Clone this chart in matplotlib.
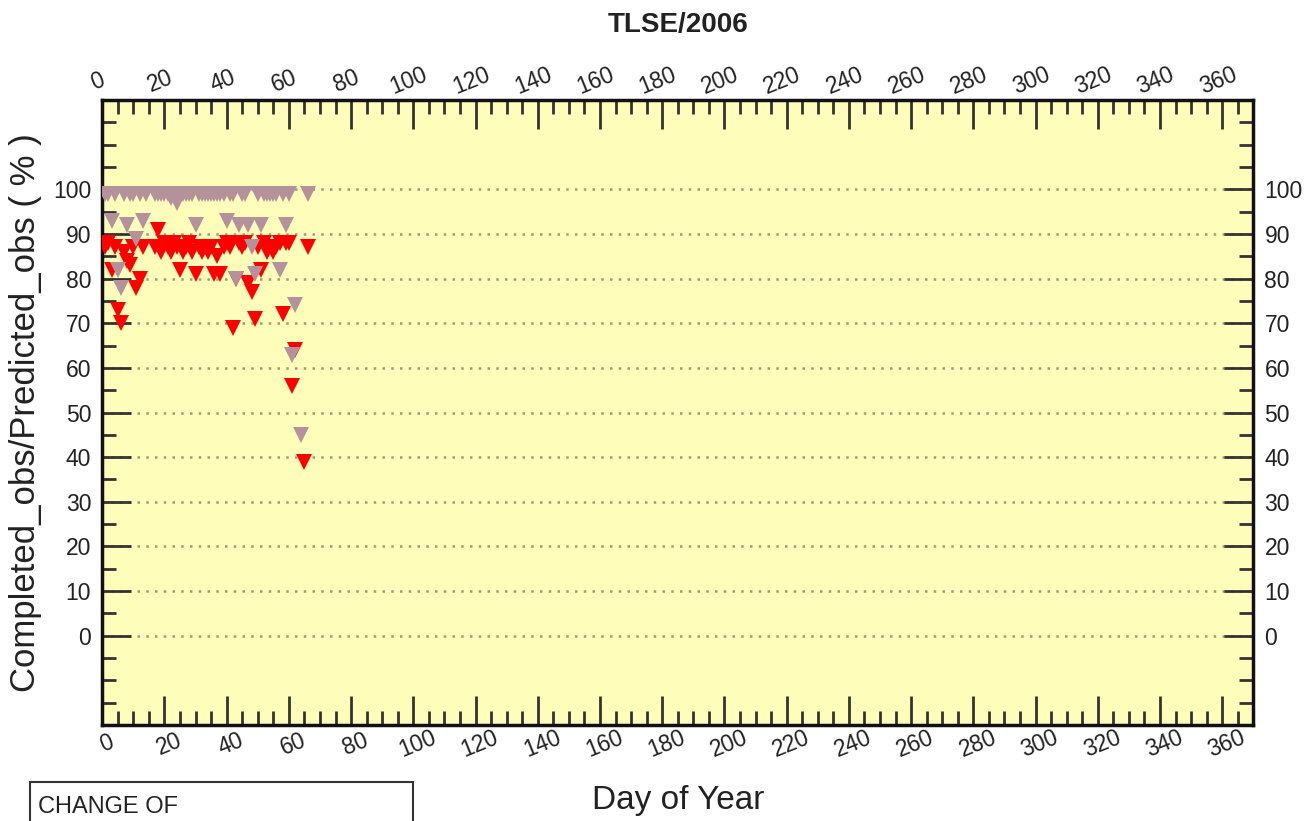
import matplotlib.pyplot as plt
from matplotlib.ticker import MultipleLocator, FixedLocator
from matplotlib.patches import Rectangle
import numpy as np

plt.rcParams['font.family'] = ['Liberation Sans', 'DejaVu Sans']

# observation ratios per day of year
red_days = [1, 2, 3, 4, 5, 6, 7, 8, 9, 10, 11, 12, 13,
            17, 18, 19, 20, 21, 22, 23, 24, 25, 26, 27, 28, 29, 30,
            31, 32, 33, 34, 35, 36, 37, 38, 39, 40, 41, 42, 43, 44, 45,
            46, 47, 48, 49, 50, 51, 52, 53, 54, 55, 56, 57, 58, 59, 60,
            61, 62, 65, 66]
red_vals = [87, 88, 82, 87, 73, 70, 86, 84, 83, 87, 78, 80, 87,
            87, 91, 86, 88, 87, 86, 88, 87, 82, 86, 87, 88, 86, 81,
            87, 86, 87, 86, 87, 81, 85, 81, 87, 88, 87, 69, 80, 88, 87,
            88, 79, 77, 71, 87, 82, 88, 86, 87, 86, 87, 88, 72, 88, 88,
            56, 64, 39, 87]

grey_days = [1, 2, 3, 4, 5, 6, 7, 8, 9, 10, 11, 12, 13, 14,
             17, 18, 19, 20, 21, 22, 23, 24, 25, 26, 27, 28, 29, 30,
             31, 32, 33, 34, 35, 36, 37, 38, 39, 40, 41, 42, 43, 44, 45,
             46, 47, 48, 49, 50, 51, 52, 53, 54, 55, 56, 57, 58, 59, 60,
             61, 62, 64, 66]
grey_vals = [99, 99, 93, 99, 82, 78, 99, 92, 99, 99, 89, 99, 93, 99,
             99, 99, 99, 99, 99, 98, 99, 97, 99, 99, 99, 99, 99, 92,
             99, 99, 99, 99, 99, 99, 99, 99, 99, 93, 99, 99, 80, 92, 99,
             99, 92, 87, 81, 99, 92, 99, 99, 99, 99, 99, 82, 99, 92, 99,
             63, 74, 45, 99]

x_ticks = list(range(0, 361, 20))
y_ticks = list(range(0, 101, 10))

fig = plt.figure(figsize=(13.11, 8.21), dpi=100)
ax = fig.add_axes([0.078, 0.117, 0.878, 0.761])
ax.set_facecolor('#FEFEBA')

ax.plot(red_days, red_vals, linestyle='none', marker='v', markersize=12,
        color='#FF0000', markeredgewidth=0, zorder=3)
ax.plot(grey_days, grey_vals, linestyle='none', marker='v', markersize=12,
        color='#B4919B', markeredgewidth=0, zorder=4)

ax.set_xlim(0, 370)
ax.set_ylim(-20, 120)

for y in y_ticks:
    ax.axhline(y, color='#9C9C7C', linestyle=(0, (1, 2.5)), linewidth=1.8, zorder=1)

ax.xaxis.set_major_locator(FixedLocator(x_ticks))
ax.xaxis.set_minor_locator(MultipleLocator(5))
ax.yaxis.set_major_locator(FixedLocator(y_ticks))
ax.yaxis.set_minor_locator(FixedLocator(np.arange(-15, 120, 5)))

ax.tick_params(which='both', direction='in', top=True, right=True,
               labeltop=True, labelright=True, width=2, color='#333333')
ax.tick_params(which='major', length=21, labelsize=16.5, pad=8, labelcolor='#222222')
ax.tick_params(which='minor', length=10)
ax.tick_params(axis='x', labelrotation=22, pad=6)
for lab in ax.get_xticklabels(which='both'):
    lab.set_rotation_mode('anchor')

for s in ax.spines.values():
    s.set_linewidth(2.5)
    s.set_color('#111111')

fig.text(0.517, 0.970, 'TLSE/2006', fontsize=20, fontweight='bold',
         ha='center', va='center', color='#222222')
ax.set_ylabel('Completed_obs/Predicted_obs ( % )', fontsize=25, labelpad=8,
              color='#222222')
fig.text(0.517, 0.025, 'Day of Year', fontsize=24, ha='center', va='center',
         color='#222222')

# legend box at the bottom, running past the page edge
fig.patches.append(Rectangle((0.023, -0.05), 0.292, 0.098, transform=fig.transFigure,
                             facecolor='white', edgecolor='#333333', linewidth=1.5))
fig.text(0.029, 0.004, 'CHANGE OF', fontsize=17, ha='left', va='bottom',
         color='#222222')

fig.savefig('out.png', dpi=100)
